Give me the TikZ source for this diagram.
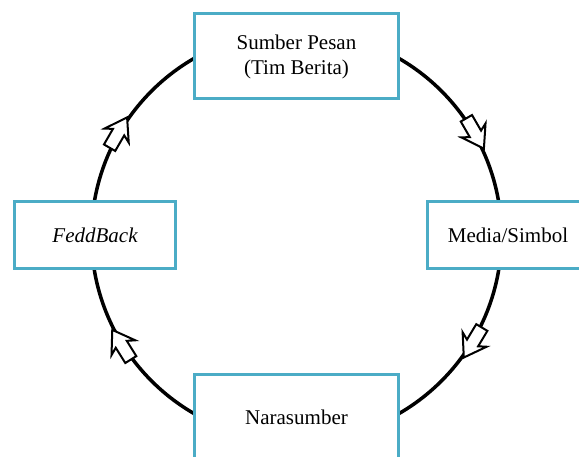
\documentclass[tikz,border=0pt]{standalone}
\usepackage{fontspec}
\setmainfont{Liberation Serif}
\usetikzlibrary{calc}
\definecolor{boxline}{HTML}{4BACC6}
\tikzset{
  stage/.style={draw=boxline, line width=3pt, fill=white, align=center,
    font=\fontsize{21}{25}\selectfont, inner sep=0pt},
  blockarrow/.pic={
    \draw[fill=white, line width=2pt, line join=miter]
      (-17,-6.5) -- (1,-6.5) -- (-3,-14) -- (18,0) -- (-3,14) -- (1,6.5) -- (-17,6.5) -- cycle;
  }
}
\begin{document}
\begin{tikzpicture}[x=1pt,y=1pt]
  \useasboundingbox (0,0) rectangle (579,457);
  \coordinate (c) at (296.5,221);
  % the cycle ring behind the stages
  \draw[line width=3.5pt] (c) circle[radius=205];
  % flow markers, running clockwise
  \foreach \a in {150,30,-31,212}
    \pic[rotate=\a-90] at ($(c)+(\a:206)$) {blockarrow};
  % stages
  \node[stage, minimum width=204, minimum height=85] (src) at (296.5,400.5) {Sumber Pesan\\(Tim Berita)};
  \node[stage, minimum width=161, minimum height=66.5] (fb) at (95,221.75) {\itshape FeddBack};
  \node[stage, minimum width=161, minimum height=66.5] (med) at (508,221.75) {Media/Simbol};
  \node[stage, minimum width=204, minimum height=85] (nara) at (296.5,40) {Narasumber};
\end{tikzpicture}
\end{document}
